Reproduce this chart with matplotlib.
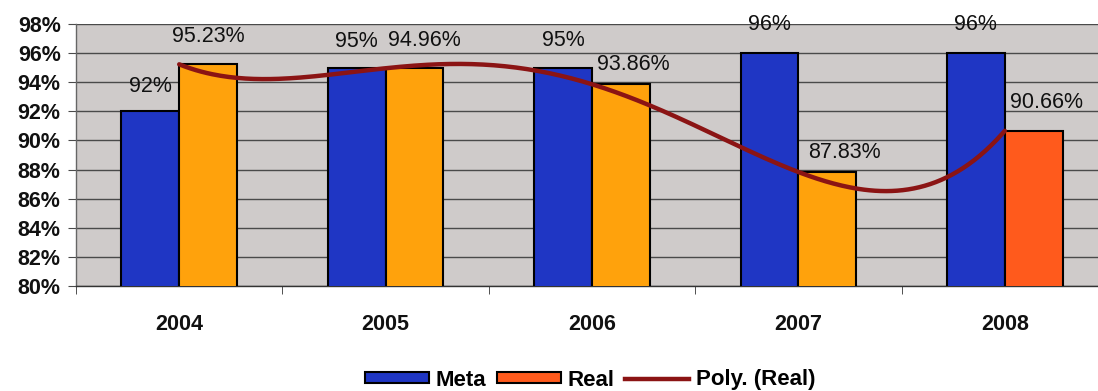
import matplotlib
matplotlib.use("Agg")
import matplotlib.pyplot as plt
import numpy as np
from matplotlib.patches import Patch
from matplotlib.lines import Line2D

# yearly target vs. achieved percentages
years = ["2004", "2005", "2006", "2007", "2008"]
meta = [92, 95, 95, 96, 96]
real = [95.23, 94.96, 93.86, 87.83, 90.66]
meta_labels = ["92%", "95%", "95%", "96%", "96%"]
real_labels = ["95.23%", "94.96%", "93.86%", "87.83%", "90.66%"]

# label nudges (pixels) so the texts clear the trend line
meta_offsets = [(0, 14), (0, 16), (0, 17), (0, 18), (0, 18)]
real_offsets = [(0, 17), (10, 17), (12, 9), (17, 9), (13, 18)]

BLUE = "#1f36c4"
ORANGE = "#ffa20c"
RED_ORANGE = "#ff5a1c"
TREND = "#8b1414"
PLOT_BG = "#cfcbca"

plt.rcParams["font.family"] = ["Liberation Sans", "DejaVu Sans"]

fig = plt.figure(figsize=(10.98, 3.91), dpi=100)
ax = fig.add_axes([76 / 1098, 1 - 286 / 391, (1108 - 76) / 1098, 262 / 391])
ax.set_facecolor(PLOT_BG)

x = np.arange(len(years))
w = 0.28
real_colors = [ORANGE] * (len(years) - 1) + [RED_ORANGE]

ax.bar(x - w / 2, meta, w, bottom=0, color=BLUE, edgecolor="black", linewidth=1.5, zorder=3)
ax.bar(x + w / 2, real, w, bottom=0, color=real_colors, edgecolor="black", linewidth=1.5, zorder=3)

# 4th order polynomial trend of the achieved values
coef = np.polyfit(x, real, 4)
xs = np.linspace(x[0], x[-1], 300)
ax.plot(xs, np.polyval(coef, xs), color=TREND, linewidth=3.2, zorder=4, solid_capstyle="round")

for i in range(len(years)):
    ax.annotate(meta_labels[i], xy=(x[i] - w / 2, meta[i]),
                xytext=meta_offsets[i], textcoords="offset pixels",
                ha="center", va="bottom", fontsize=15.5, color="#111111", zorder=5)
    ax.annotate(real_labels[i], xy=(x[i] + w / 2, real[i]),
                xytext=real_offsets[i], textcoords="offset pixels",
                ha="center", va="bottom", fontsize=15.5, color="#111111", zorder=5)

ax.set_ylim(80, 98)
ax.set_xlim(-0.5, 4.5)
ax.set_yticks(np.arange(80, 99, 2))
ax.set_yticklabels([f"{v}%" for v in range(80, 99, 2)], fontsize=15.5, fontweight="bold",
                   color="#111111")
ax.yaxis.grid(True, color="#4a4a4a", linewidth=1.0, zorder=1)
ax.set_axisbelow(True)

ax.set_xticks(x)
ax.set_xticklabels(years, fontsize=15.5, fontweight="bold", color="#111111")
ax.set_xticks(np.arange(-0.5, 5, 1), minor=True)
ax.tick_params(axis="x", which="major", length=0, pad=20)
ax.tick_params(axis="x", which="minor", length=6, color="#333333", direction="out")
ax.tick_params(axis="y", length=6, color="#4a4a4a", pad=5)

for side in ["top", "right"]:
    ax.spines[side].set_visible(False)
ax.spines["left"].set_color("#666666")
ax.spines["left"].set_linewidth(1.0)
ax.spines["bottom"].set_color("#333333")
ax.spines["bottom"].set_linewidth(1.0)

handles = [
    Patch(facecolor=BLUE, edgecolor="black", linewidth=1.5),
    Patch(facecolor=RED_ORANGE, edgecolor="black", linewidth=1.5),
    Line2D([], [], color=TREND, linewidth=3.2),
]
fig.legend(handles, ["Meta", "Real", "Poly. (Real)"], loc="center",
           bbox_to_anchor=(590 / 1098, 1 - 380 / 391), ncol=3, frameon=False,
           prop={"size": 16, "weight": "bold"}, handlelength=2.9, handleheight=0.4,
           handletextpad=0.3, columnspacing=0.45)

fig.savefig("out.png", dpi=100, facecolor="white")
